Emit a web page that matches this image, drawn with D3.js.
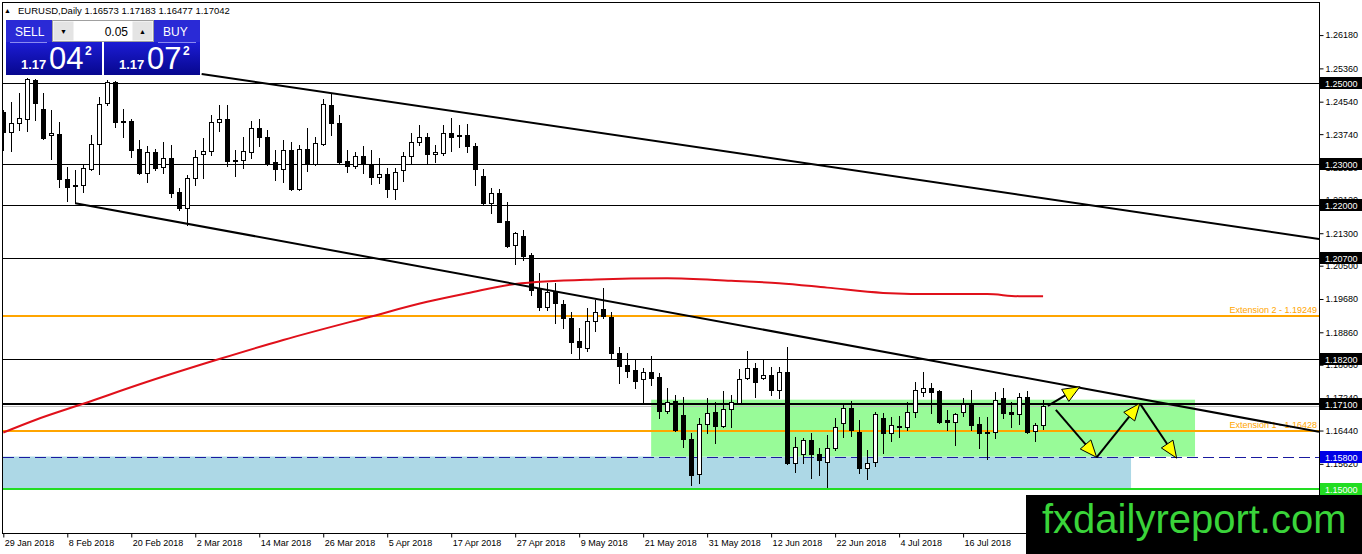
<!DOCTYPE html>
<html>
<head>
<meta charset="utf-8">
<script src="https://d3js.org/d3.v7.min.js"></script>
<style>
body { margin: 0; background: #fff; }
svg { display: block; font-family: "Liberation Sans", Arial, sans-serif; }
</style>
</head>
<body>
<script>
// EURUSD daily, one bar per trading day, 29 Jan 2018 .. 30 Jul 2018
var opens = [
  1.2429,1.2380,1.2401,1.2411,1.2507,1.2435,1.2371,1.2374,1.2263,1.2248,
  1.2249,1.2287,1.2350,1.2450,1.2503,1.2406,1.2406,1.2337,1.2279,1.2331,
  1.2292,1.2315,1.2231,1.2191,1.2265,1.2325,1.2333,1.2403,1.2411,1.2310,
  1.2310,1.2331,1.2388,1.2368,1.2306,1.2287,1.2335,1.2238,1.2337,1.2300,
  1.2349,1.2446,1.2401,1.2308,1.2296,1.2320,1.2300,1.2268,1.2276,1.2238,
  1.2286,1.2320,1.2354,1.2366,1.2325,1.2328,1.2378,1.2372,1.2372,1.2345,
  1.2271,1.2205,1.2230,1.2160,1.2101,1.2123,1.2076,1.1994,1.1948,1.1986,
  1.1956,1.1920,1.1865,1.1847,1.1914,1.1943,1.1924,1.1834,1.1805,1.1793,
  1.1770,1.1787,1.1775,1.1693,1.1717,1.1682,1.1622,1.1537,1.1659,1.1689,
  1.1656,1.1696,1.1713,1.1773,1.1797,1.1773,1.1781,1.1744,1.1787,1.1565,
  1.1585,1.1621,1.1585,1.1567,1.1600,1.1662,1.1700,1.1640,1.1551,1.1566,
  1.1674,1.1637,1.1653,1.1653,1.1689,1.1740,1.1748,1.1741,1.1670,1.1666,
  1.1689,1.1709,1.1660,1.1641,1.1640,1.1723,1.1690,1.1685,1.1726,1.1644,
  1.16573
];
var highs = [
  1.2433,1.2454,1.2475,1.2512,1.2510,1.2476,1.2433,1.2405,1.2294,1.2286,
  1.2298,1.2372,1.2466,1.2507,1.2506,1.2435,1.2411,1.2360,1.2345,1.2337,
  1.2355,1.2347,1.2241,1.2273,1.2335,1.2364,1.2421,1.2446,1.2446,1.2335,
  1.2368,1.2406,1.2411,1.2384,1.2335,1.2360,1.2355,1.2347,1.2388,1.2368,
  1.2460,1.2473,1.2421,1.2335,1.2331,1.2345,1.2335,1.2315,1.2290,1.2290,
  1.2331,1.2378,1.2397,1.2376,1.2347,1.2397,1.2413,1.2397,1.2398,1.2353,
  1.2287,1.2241,1.2238,1.2208,1.2134,1.2138,1.2082,1.2031,1.2007,1.2007,
  1.1966,1.1937,1.1896,1.1945,1.1966,1.1994,1.1937,1.1850,1.1836,1.1819,
  1.1797,1.1828,1.1786,1.1748,1.1732,1.1727,1.1637,1.1674,1.1723,1.1715,
  1.1742,1.1732,1.1795,1.1841,1.1810,1.1818,1.1801,1.1801,1.1850,1.1627,
  1.1626,1.1639,1.1600,1.1633,1.1674,1.1711,1.1717,1.1670,1.1596,1.1690,
  1.1686,1.1678,1.1680,1.1715,1.1764,1.1789,1.1760,1.1744,1.1695,1.1688,
  1.1723,1.1744,1.1677,1.1677,1.1740,1.1748,1.1715,1.1737,1.1742,1.1662,
  1.17183
];
var lows = [
  1.2335,1.2333,1.2384,1.2383,1.2409,1.2362,1.2312,1.2245,1.2210,1.2204,
  1.2232,1.2286,1.2276,1.2446,1.2392,1.2368,1.2318,1.2277,1.2257,1.2286,
  1.2278,1.2220,1.2187,1.2150,1.2249,1.2265,1.2323,1.2383,1.2296,1.2271,
  1.2290,1.2315,1.2345,1.2299,1.2261,1.2257,1.2236,1.2236,1.2284,1.2299,
  1.2348,1.2372,1.2304,1.2282,1.2290,1.2279,1.2251,1.2254,1.2218,1.2214,
  1.2259,1.2300,1.2347,1.2302,1.2306,1.2323,1.2333,1.2342,1.2331,1.2249,
  1.2200,1.2181,1.2157,1.2095,1.2054,1.2064,1.1979,1.1941,1.1941,1.1908,
  1.1896,1.1836,1.1819,1.1841,1.1890,1.1920,1.1822,1.1760,1.1775,1.1748,
  1.1715,1.1756,1.1674,1.1688,1.1643,1.1604,1.1510,1.1514,1.1639,1.1614,
  1.1653,1.1653,1.1711,1.1770,1.1727,1.1770,1.1732,1.1723,1.1562,1.1543,
  1.1563,1.1528,1.1534,1.1506,1.1596,1.1629,1.1631,1.1539,1.1524,1.1557,
  1.1588,1.1617,1.1629,1.1645,1.1678,1.1729,1.1688,1.1663,1.1645,1.1608,
  1.1680,1.1645,1.1600,1.1573,1.1625,1.1674,1.1652,1.1660,1.1637,1.1617,
  1.16477
];
var closes = [
  1.2379,1.2401,1.2413,1.2509,1.2451,1.2364,1.2376,1.2263,1.2245,1.2246,
  1.2290,1.2350,1.2448,1.2503,1.2405,1.2403,1.2335,1.2279,1.2329,1.2291,
  1.2315,1.2230,1.2191,1.2265,1.2317,1.2333,1.2403,1.2411,1.2309,1.2307,
  1.2333,1.2388,1.2366,1.2300,1.2287,1.2335,1.2239,1.2337,1.2300,1.2351,
  1.2448,1.2401,1.2306,1.2296,1.2320,1.2300,1.2268,1.2275,1.2238,1.2281,
  1.2320,1.2354,1.2366,1.2325,1.2331,1.2378,1.2366,1.2369,1.2345,1.2287,
  1.2205,1.2230,1.2158,1.2099,1.2130,1.2074,1.1990,1.1948,1.1986,1.1959,
  1.1920,1.1863,1.1849,1.1914,1.1937,1.1926,1.1834,1.1804,1.1791,1.1767,
  1.1787,1.1774,1.1693,1.1715,1.1645,1.1622,1.1534,1.1659,1.1688,1.1656,
  1.1696,1.1715,1.1770,1.1797,1.1764,1.1781,1.1744,1.1787,1.1563,1.1604,
  1.1621,1.1585,1.1571,1.1600,1.1653,1.1700,1.1645,1.1551,1.1565,1.1684,
  1.1637,1.1658,1.1655,1.1689,1.1744,1.1748,1.1740,1.1666,1.1666,1.1684,
  1.1709,1.1658,1.1637,1.1637,1.1719,1.1688,1.1685,1.1726,1.1641,1.1658,
  1.17042
];

// moving average, read at a few bars
var maBar = [0, 4, 10, 18, 27, 35, 46, 53, 58, 64, 74, 83, 91, 97, 103, 110, 117, 123, 127, 130];
var maVal = [1.1639,1.1670,1.1710,1.1764,1.1820,1.1867,1.1925,1.1961,1.1982,1.2005,
             1.2016,1.2019,1.2013,1.2007,1.1996,1.1983,1.1980,1.1980,1.1975,1.1975];

var priceTicks = [1.2618,1.2536,1.2454,1.2374,1.2292,1.2212,1.2130,1.2050,
                  1.1968,1.1886,1.1806,1.1724,1.1644,1.1562,1.1482];
var dateTicks = ["29 Jan 2018","8 Feb 2018","20 Feb 2018","2 Mar 2018","14 Mar 2018",
                 "26 Mar 2018","5 Apr 2018","17 Apr 2018","27 Apr 2018","9 May 2018",
                 "21 May 2018","31 May 2018","12 Jun 2018","22 Jun 2018","4 Jul 2018","16 Jul 2018"];

var levels = [1.25, 1.23, 1.22, 1.207, 1.182, 1.171];
var extensions = [1.19249, 1.16428];
var extNames = ["Extension 2 - 1.19249", "Extension 1 - 1.16428"];
var support = 1.158, floorLevel = 1.15, bid = 1.17042;

// drawn objects, in (bar, price)
var upperTrend = [[24.8, 1.2522], [164.5, 1.2116]];
var lowerTrend = [[9, 1.2204], [164.5, 1.1641]];
var greenBox = [[81, 1.1720], [149, 1.158]];
var blueBox = [[-2, 1.158], [141, 1.150]];
var upArrow = [[130.6, 1.1705], [134.6, 1.1752]];
var zigzag = [[131.6, 1.1695], [136.7, 1.1578], [142.1, 1.1711], [146.7, 1.1576]];

var width = 1362, height = 554;
var plotL = 3, plotR = 1319, plotT = 3, plotB = 533;

var x = d3.scaleLinear().domain([0, 164.5]).range([3.3, plotR]);
var y = d3.scaleLinear().domain([1.139163, 1.269704]).range([plotB, plotT]);

var svg = d3.select("body").append("svg")
    .attr("width", width)
    .attr("height", height);

var defs = svg.append("defs");
defs.append("clipPath").attr("id", "plot")
  .append("rect").attr("x", plotL).attr("y", plotT).attr("width", plotR - plotL).attr("height", plotB - plotT);
var grad = defs.append("linearGradient").attr("id", "quote").attr("x1", 0).attr("y1", 0).attr("x2", 0).attr("y2", 1);
grad.append("stop").attr("offset", "0%").attr("stop-color", "#1c1cd4");
grad.append("stop").attr("offset", "100%").attr("stop-color", "#07078e");

var plot = svg.append("g").attr("clip-path", "url(#plot)");

// rectangles (background)
function box(b, fill) {
  plot.append("rect")
    .attr("x", x(b[0][0])).attr("y", y(b[0][1]))
    .attr("width", x(b[1][0]) - x(b[0][0]))
    .attr("height", y(b[1][1]) - y(b[0][1]))
    .attr("fill", fill);
}
box(blueBox, "#add8e6");
box(greenBox, "#98fb98");

// horizontal levels
function hline(p, color, w, dash) {
  var yy = Math.round(y(p)) + (w % 2 ? 0.5 : 0);
  var l = plot.append("line")
    .attr("x1", plotL).attr("x2", plotR).attr("y1", yy).attr("y2", yy)
    .attr("stroke", color).attr("stroke-width", w);
  if (dash) l.attr("stroke-dasharray", dash);
}
levels.forEach(function(p) { hline(p, "#000", p === 1.171 ? 2 : 1); });
hline(bid, "#c0c0c0", 1);
extensions.forEach(function(p) { hline(p, "#ffa500", 2); });
hline(support, "#1a1aa0", 1, "11,5");
hline(floorLevel, "#22dd22", 2);

extensions.forEach(function(p, i) {
  plot.append("text")
    .attr("x", plotR - 2).attr("y", Math.round(y(p)) - 3)
    .attr("text-anchor", "end")
    .attr("font-size", 9).attr("fill", "#ffa500")
    .text(extNames[i]);
});

// candles
var bars = d3.range(opens.length);
var candle = plot.selectAll(".candle").data(bars).enter().append("g").attr("class", "candle");
candle.append("line")
  .attr("x1", function(i) { return Math.round(x(i)) + 0.5; })
  .attr("x2", function(i) { return Math.round(x(i)) + 0.5; })
  .attr("y1", function(i) { return Math.round(y(highs[i])); })
  .attr("y2", function(i) { return Math.round(y(lows[i])) + 1; })
  .attr("stroke", "#000").attr("stroke-width", 1);
candle.append("rect")
  .attr("x", function(i) { return Math.round(x(i)) - 1.5; })
  .attr("y", function(i) { return Math.round(y(Math.max(opens[i], closes[i]))) + 0.5; })
  .attr("width", 4)
  .attr("height", function(i) {
    return Math.max(0, Math.round(y(Math.min(opens[i], closes[i]))) - Math.round(y(Math.max(opens[i], closes[i]))));
  })
  .attr("fill", function(i) { return closes[i] >= opens[i] ? "#fff" : "#000"; })
  .attr("stroke", "#000").attr("stroke-width", 1);

// moving average
var ma = maBar.map(function(b, i) { return [b, maVal[i]]; });
plot.append("path")
  .datum(ma)
  .attr("fill", "none").attr("stroke", "#e0101a").attr("stroke-width", 2)
  .attr("d", d3.line().x(function(d) { return x(d[0]); }).y(function(d) { return y(d[1]); })
    .curve(d3.curveMonotoneX));

// trend lines
[upperTrend, lowerTrend].forEach(function(t) {
  plot.append("line")
    .attr("x1", x(t[0][0])).attr("y1", y(t[0][1]))
    .attr("x2", x(t[1][0])).attr("y2", y(t[1][1]))
    .attr("stroke", "#000").attr("stroke-width", 2);
});

// arrows
function arrow(a, b) {
  var x1 = x(a[0]), y1 = y(a[1]), x2 = x(b[0]), y2 = y(b[1]);
  var dx = x2 - x1, dy = y2 - y1, len = Math.sqrt(dx * dx + dy * dy);
  var ux = dx / len, uy = dy / len, L = 17, hw = 7;
  var bx = x2 - ux * L, by = y2 - uy * L;
  plot.append("line").attr("x1", x1).attr("y1", y1).attr("x2", bx).attr("y2", by)
    .attr("stroke", "#000").attr("stroke-width", 2);
  plot.append("path")
    .attr("d", "M" + x2 + "," + y2 + "L" + (bx - uy * hw) + "," + (by + ux * hw) +
               "L" + (bx + uy * hw) + "," + (by - ux * hw) + "Z")
    .attr("fill", "#ffff00").attr("stroke", "#000").attr("stroke-width", 1);
}
arrow(upArrow[0], upArrow[1]);
for (var k = 0; k < zigzag.length - 1; k++) arrow(zigzag[k], zigzag[k + 1]);

// frame
svg.append("rect").attr("x", plotL - 0.5).attr("y", plotT - 0.5)
  .attr("width", plotR - plotL + 1).attr("height", plotB - plotT + 1)
  .attr("fill", "none").attr("stroke", "#000");

// price axis
var yAxis = svg.append("g").attr("transform", "translate(" + (plotR + 0.5) + ",0)")
  .call(d3.axisRight(y).tickValues(priceTicks).tickSize(4).tickSizeOuter(0).tickPadding(2)
    .tickFormat(d3.format(".5f")));
yAxis.selectAll("text").attr("font-size", 9).attr("fill", "#000").attr("font-family", "Liberation Sans, Arial");
yAxis.select(".domain").remove();

function tag(p, fill) {
  var yy = Math.round(y(p));
  svg.append("rect").attr("x", plotR + 1).attr("y", yy - 6).attr("width", width - plotR - 1).attr("height", 12)
    .attr("fill", fill);
  svg.append("text").attr("x", plotR + 6).attr("y", yy + 4)
    .attr("font-size", 9).attr("fill", "#fff").text(d3.format(".5f")(p));
}
levels.forEach(function(p) { tag(p, "#000"); });
tag(support, "#0000e6");
tag(floorLevel, "#22dd22");

// time axis
var xAxis = svg.append("g").attr("transform", "translate(0," + (plotB + 0.5) + ")")
  .call(d3.axisBottom(x).tickValues(d3.range(0, 128, 8)).tickSize(4).tickSizeOuter(0)
    .tickFormat(function(d, i) { return dateTicks[i]; }));
xAxis.select(".domain").remove();
xAxis.selectAll("text").attr("font-size", 9).attr("fill", "#000").attr("font-family", "Liberation Sans, Arial")
  .attr("text-anchor", "start").attr("dx", 1).attr("dy", "0.6em");

// header
svg.append("text").attr("x", 4).attr("y", 13).attr("font-size", 7).text("\u25B2");
svg.append("text").attr("x", 18).attr("y", 13.5).attr("font-size", 9.5)
  .text("EURUSD,Daily  1.16573 1.17183 1.16477 1.17042");

// one-click trading panel
var panel = svg.append("g");
function quote(x0, label, lx, big) {
  panel.append("rect").attr("x", x0).attr("y", 20).attr("width", 96).attr("height", 22).attr("fill", "#2a2ad6");
  panel.append("rect").attr("x", x0).attr("y", 42).attr("width", 96).attr("height", 33).attr("fill", "url(#quote)");
  panel.append("text").attr("x", lx).attr("y", 36).attr("font-size", 12).attr("fill", "#fff").text(label);
  panel.append("text").attr("x", x0 + 15).attr("y", 68.5).attr("font-size", 13).attr("font-weight", "bold")
    .attr("fill", "#fff").text("1.17");
  panel.append("text").attr("x", x0 + 43).attr("y", 68.5).attr("font-size", 31).attr("fill", "#fff").text(big);
  panel.append("text").attr("x", x0 + 79).attr("y", 55).attr("font-size", 12).attr("font-weight", "bold")
    .attr("fill", "#fff").text("2");
}
quote(6, "SELL", 15, "04");
quote(104, "BUY", 163, "07");
panel.append("line").attr("x1", 10).attr("x2", 47).attr("y1", 42.5).attr("y2", 42.5).attr("stroke", "#8a8af0");
panel.append("line").attr("x1", 158).attr("x2", 196).attr("y1", 42.5).attr("y2", 42.5).attr("stroke", "#8a8af0");
panel.append("rect").attr("x", 52.5).attr("y", 20.5).attr("width", 101).attr("height", 21)
  .attr("fill", "#fff").attr("stroke", "#a0a0a0");
panel.append("rect").attr("x", 53.5).attr("y", 21.5).attr("width", 20).attr("height", 19).attr("fill", "#e4e4e4");
panel.append("rect").attr("x", 132.5).attr("y", 21.5).attr("width", 20).attr("height", 19).attr("fill", "#e4e4e4");
panel.append("text").attr("x", 63.5).attr("y", 34).attr("font-size", 7).attr("text-anchor", "middle").text("\u25BC");
panel.append("text").attr("x", 142.5).attr("y", 34).attr("font-size", 7).attr("text-anchor", "middle").text("\u25B2");
panel.append("text").attr("x", 128).attr("y", 36).attr("font-size", 12).attr("text-anchor", "end").text("0.05");

// watermark
svg.append("rect").attr("x", 1026).attr("y", 495).attr("width", width - 1026).attr("height", height - 495)
  .attr("fill", "#000");
svg.append("text").attr("x", 1042).attr("y", 533).attr("font-size", 40).attr("fill", "#3ad43a")
  .text("fxdailyreport.com");
</script>
</body>
</html>
